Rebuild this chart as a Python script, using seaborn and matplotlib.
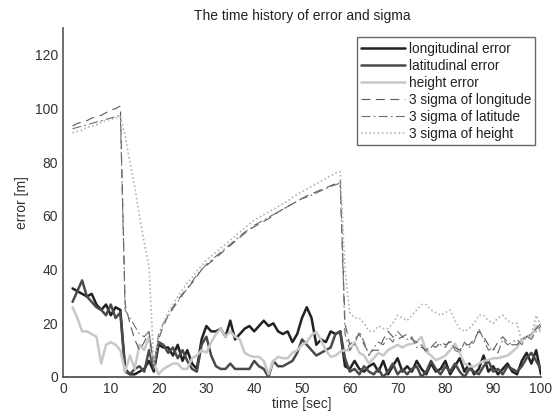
import numpy as np
import matplotlib
matplotlib.use("Agg")
import matplotlib.pyplot as plt
import seaborn as sns

# time axis [sec]
time = np.arange(2, 101)

# error series (t = 2 .. 100)
lon_err = [33, 32, 31, 30, 31, 27, 25, 27, 23, 26,
           25, 3, 1, 1, 2, 3, 6, 2, 12, 11,
           11, 8, 12, 6, 10, 5, 3, 14, 19, 17,
           17, 18, 15, 21, 14, 16, 18, 19, 17, 19,
           21, 19, 20, 17, 16, 17, 13, 16, 22, 26,
           22, 12, 14, 13, 17, 16, 17, 4, 3, 6,
           3, 2, 4, 5, 2, 6, 1, 4, 7, 2,
           4, 2, 6, 3, 1, 5, 2, 3, 6, 1,
           4, 7, 2, 5, 1, 3, 8, 2, 4, 1,
           3, 5, 2, 1, 6, 9, 5, 10, 1]
lat_err = [28, 32, 36, 30, 28, 26, 25, 23, 27, 22,
           24, 2, 1, 3, 4, 2, 10, 3, 13, 12,
           9, 11, 7, 10, 6, 3, 2, 12, 15, 8,
           4, 3, 3, 5, 3, 3, 3, 3, 6, 4,
           3, 0, 6, 4, 4, 5, 6, 9, 14, 12,
           10, 8, 9, 10, 11, 16, 17, 7, 2, 3,
           1, 4, 2, 1, 3, 0, 2, 5, 1, 3,
           1, 3, 4, 0, 2, 6, 3, 1, 4, 2,
           5, 2, 0, 3, 2, 1, 4, 6, 2, 3,
           1, 4, 3, 2, 4, 7, 9, 6, 3]
hgt_err = [26, 22, 17, 17, 16, 15, 5, 12, 13, 12,
           10, 2, 8, 3, 12, 10, 15, 5, 1, 3,
           4, 5, 5, 3, 3, 7, 8, 10, 9, 13,
           16, 18, 15, 17, 15, 14, 9, 8, 7.5, 7.5,
           6, 1, 6, 7.5, 7, 7, 9, 10, 12, 13,
           15.6, 16.8, 13.7, 10, 7.5, 8, 9.4, 10, 10, 13,
           9, 8, 5, 7, 9, 8, 10, 11, 12, 11,
           12, 12.4, 13, 15, 9.4, 8, 6.3, 7, 8, 10,
           12.4, 9, 5, 4, 3.8, 5, 6, 6.3, 7, 7,
           7.5, 8, 9.4, 11, 14, 15, 15, 19, 17]

# 3 sigma series (t = 2 .. 100)
lon_sig = [93.5, 94.5, 95, 95.5, 96.5, 97, 97.5, 98.5, 99.5, 100,
           101, 27, 20, 14, 10, 13, 17, 3, 14, 19,
           23, 26, 28.5, 31, 33, 35, 37.5, 40, 41.5, 43,
           44.5, 46, 47.5, 49, 50.5, 52, 53.5, 55, 56, 57,
           58, 59, 60, 61.5, 62.5, 63.5, 64.5, 65.5, 66.5, 67.5,
           68.3, 69, 69.8, 70.5, 71.3, 72, 73, 20, 12, 14,
           16, 12, 9, 10, 10, 14, 17, 15, 14, 15,
           16, 14, 13, 11, 10, 12, 11, 13, 12, 13,
           11, 10, 12, 12, 14, 17, 15, 12, 10, 13,
           15, 13, 12, 12, 14, 15, 16, 18, 20]
lat_sig = [92.5, 93, 93.5, 94, 94.5, 95, 95.5, 96, 96.5, 97,
           97.5, 25, 22, 19, 16, 15, 17, 4, 16, 20,
           22.5, 25.5, 28, 30.5, 33, 35.5, 38, 40, 42, 43.5,
           45, 46.5, 48, 49.5, 51, 52.5, 54, 55, 56.5, 57.5,
           58.5, 59.5, 60.5, 61.5, 62.5, 63.5, 64.5, 65.5, 66.5, 67,
           67.8, 68.6, 69.4, 70.2, 71, 71.6, 72.3, 16, 10, 12,
           17, 13, 8, 11, 13, 12, 15, 13, 17, 15,
           14, 15, 11, 12, 9, 11, 13, 12, 11, 14,
           10, 9, 13, 11, 13, 18, 14, 10, 11, 9,
           14, 12, 13, 14, 12, 15, 14, 17, 19]
hgt_sig = [91, 91.5, 92, 93, 93.5, 94, 95, 95.5, 96, 96.5,
           97, 90, 80, 71, 60, 50, 41, 5, 15, 20,
           24, 27, 30, 32.5, 35, 37, 39.5, 41.5, 43.5, 45,
           46.5, 48, 49.5, 51, 52.5, 54, 55.5, 57, 58.5, 59.5,
           60.5, 61.5, 62.5, 63.5, 64.5, 65.5, 67, 68, 69, 70,
           71, 72, 73, 74, 75, 76, 76.5, 40, 24, 22,
           22, 20, 17, 17, 19, 18, 18, 20, 23, 22,
           21, 23, 25, 27, 27, 25, 24, 23, 24, 25,
           21, 18, 17, 18, 20, 23, 23, 21, 20, 22,
           23, 21, 20, 20, 13, 15, 16, 23, 19]

x_ticks = list(range(0, 101, 10))
y_ticks = list(range(0, 121, 20))

sns.set_style("white")
plt.rcParams['font.family'] = ['Liberation Sans', 'DejaVu Sans']

fig = plt.figure(figsize=(5.6, 4.2), dpi=100)
ax = fig.add_axes([0.1125, 0.1024, 0.8535, 0.8306])

sns.lineplot(x=time, y=lon_err, ax=ax, color='#222222', lw=1.8, label='longitudinal error')
sns.lineplot(x=time, y=lat_err, ax=ax, color='#4a4a4a', lw=1.8, label='latitudinal error')
sns.lineplot(x=time, y=hgt_err, ax=ax, color='#c8c8c8', lw=1.8, label='height error')
sns.lineplot(x=time, y=lon_sig, ax=ax, color='#5a5a5a', lw=0.8, linestyle=(0, (8, 5)),
             label='3 sigma of longitude')
sns.lineplot(x=time, y=lat_sig, ax=ax, color='#6e6e6e', lw=0.8, linestyle=(0, (8, 3, 1.5, 3)),
             label='3 sigma of latitude')
sns.lineplot(x=time, y=hgt_sig, ax=ax, color='#b4b4b4', lw=1.2, linestyle=(0, (1, 1.5)),
             label='3 sigma of height')

ax.set_xlim(0, 100)
ax.set_ylim(0, 130)
ax.set_xticks(x_ticks)
ax.set_yticks(y_ticks)
ax.tick_params(direction='in', length=4, color='#444444', labelsize=10, labelcolor='#333333')
for s in ['top', 'right']:
    ax.spines[s].set_visible(False)
ax.spines['left'].set_color('#555555')
ax.spines['bottom'].set_color('#444444')
ax.spines['left'].set_linewidth(1.2)
ax.spines['bottom'].set_linewidth(1.2)

ax.set_title('The time history of error and sigma', fontsize=10, color='#222222', pad=6)
ax.set_xlabel('time [sec]', fontsize=10, color='#333333', labelpad=1)
ax.set_ylabel('error [m]', fontsize=10, color='#333333', labelpad=4)

leg = ax.legend(loc='upper right', fontsize=9.8, frameon=True, fancybox=False,
                handlelength=3.2, handletextpad=0.3, borderpad=0.3, labelspacing=0.22,
                borderaxespad=0.3, bbox_to_anchor=(0.997, 0.985))
leg.get_frame().set_edgecolor('#444444')
leg.get_frame().set_linewidth(1.0)
for t in leg.get_texts():
    t.set_color('#222222')

fig.savefig('out.png', dpi=100)
